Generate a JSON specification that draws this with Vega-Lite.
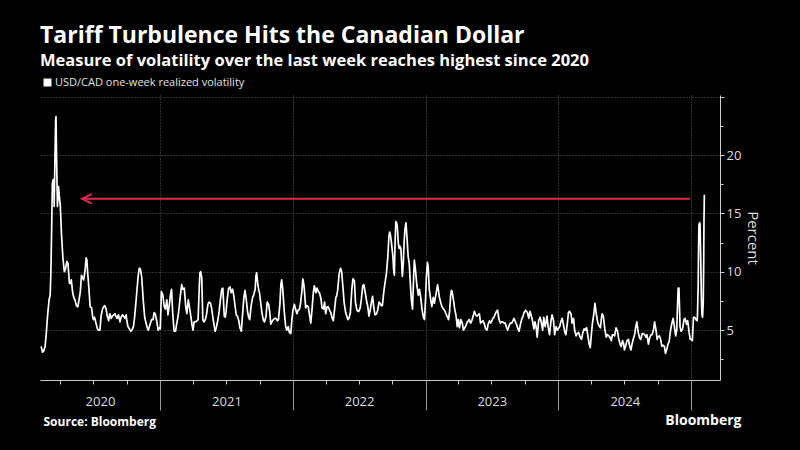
{
  "$schema": "https://vega.github.io/schema/vega-lite/v6.json",
  "width": 680,
  "height": 285,
  "autosize": {"type": "none"},
  "padding": {"left": 40, "top": 95, "right": 80, "bottom": 70},
  "background": "#000000",
  "title": {
    "text": "Tariff Turbulence Hits the Canadian Dollar",
    "subtitle": "Measure of volatility over the last week reaches highest since 2020",
    "anchor": "start",
    "frame": "group",
    "font": "Open Sans",
    "fontSize": 23,
    "fontWeight": "bold",
    "color": "#ffffff",
    "subtitleFont": "Open Sans",
    "subtitleFontSize": 16.5,
    "subtitleFontWeight": "bold",
    "subtitleColor": "#ffffff",
    "subtitlePadding": 5,
    "offset": 8
  },
  "layer": [
    {
      "data": {"values": [
        {"date":"2020-02-08","vol":3.6},{"date":"2020-02-12","vol":3.1},{"date":"2020-02-15","vol":3.2},{"date":"2020-02-19","vol":3.6},{"date":"2020-02-22","vol":4.6},{"date":"2020-02-26","vol":6.3},
        {"date":"2020-03-01","vol":7.6},{"date":"2020-03-04","vol":8.0},{"date":"2020-03-06","vol":10.0},{"date":"2020-03-08","vol":13.5},{"date":"2020-03-10","vol":17.5},{"date":"2020-03-12","vol":17.9},{"date":"2020-03-14","vol":17.9},{"date":"2020-03-15","vol":15.6},{"date":"2020-03-17","vol":19.5},{"date":"2020-03-19","vol":23.0},{"date":"2020-03-20","vol":23.3},{"date":"2020-03-22","vol":19.0},{"date":"2020-03-24","vol":15.6},{"date":"2020-03-27","vol":17.3},{"date":"2020-03-29","vol":16.5},
        {"date":"2020-04-01","vol":15.6},{"date":"2020-04-04","vol":13.3},{"date":"2020-04-08","vol":11.2},{"date":"2020-04-12","vol":10.0},{"date":"2020-04-15","vol":10.2},{"date":"2020-04-19","vol":10.9},{"date":"2020-04-22","vol":10.7},{"date":"2020-04-26","vol":9.0},{"date":"2020-04-29","vol":9.0},
        {"date":"2020-05-01","vol":9.3},{"date":"2020-05-05","vol":8.2},{"date":"2020-05-08","vol":7.8},{"date":"2020-05-12","vol":7.5},{"date":"2020-05-15","vol":7.1},{"date":"2020-05-19","vol":7.0},{"date":"2020-05-22","vol":7.5},{"date":"2020-05-26","vol":8.3},{"date":"2020-05-29","vol":9.7},
        {"date":"2020-06-01","vol":9.5},{"date":"2020-06-04","vol":9.3},{"date":"2020-06-08","vol":10.1},{"date":"2020-06-11","vol":11.2},{"date":"2020-06-13","vol":11.0},{"date":"2020-06-15","vol":10.0},{"date":"2020-06-18","vol":8.8},{"date":"2020-06-22","vol":7.0},{"date":"2020-06-26","vol":6.9},{"date":"2020-06-29","vol":6.1},
        {"date":"2020-07-01","vol":5.9},{"date":"2020-07-04","vol":6.1},{"date":"2020-07-08","vol":5.6},{"date":"2020-07-12","vol":5.1},{"date":"2020-07-15","vol":5.0},{"date":"2020-07-19","vol":5.0},{"date":"2020-07-22","vol":6.2},{"date":"2020-07-26","vol":6.8},{"date":"2020-07-29","vol":7.0},
        {"date":"2020-08-01","vol":7.1},{"date":"2020-08-05","vol":6.8},{"date":"2020-08-08","vol":6.2},{"date":"2020-08-12","vol":5.8},{"date":"2020-08-15","vol":6.4},{"date":"2020-08-19","vol":6.0},{"date":"2020-08-22","vol":6.2},{"date":"2020-08-26","vol":6.3},{"date":"2020-08-29","vol":6.4},
        {"date":"2020-09-01","vol":6.2},{"date":"2020-09-04","vol":6.0},{"date":"2020-09-08","vol":6.3},{"date":"2020-09-12","vol":5.7},{"date":"2020-09-15","vol":6.1},{"date":"2020-09-19","vol":6.3},{"date":"2020-09-22","vol":6.2},{"date":"2020-09-26","vol":6.0},{"date":"2020-09-29","vol":6.3},
        {"date":"2020-10-01","vol":5.8},{"date":"2020-10-04","vol":5.3},{"date":"2020-10-08","vol":5.1},{"date":"2020-10-12","vol":4.9},{"date":"2020-10-15","vol":5.0},{"date":"2020-10-19","vol":5.3},{"date":"2020-10-22","vol":6.0},{"date":"2020-10-26","vol":7.4},{"date":"2020-10-29","vol":8.5},
        {"date":"2020-11-01","vol":9.6},{"date":"2020-11-04","vol":10.3},{"date":"2020-11-06","vol":10.3},{"date":"2020-11-08","vol":10.1},{"date":"2020-11-11","vol":9.5},{"date":"2020-11-15","vol":7.6},{"date":"2020-11-19","vol":6.1},{"date":"2020-11-22","vol":5.7},{"date":"2020-11-26","vol":5.2},{"date":"2020-11-29","vol":5.0},
        {"date":"2020-12-01","vol":5.2},{"date":"2020-12-04","vol":5.5},{"date":"2020-12-08","vol":5.9},{"date":"2020-12-12","vol":5.9},{"date":"2020-12-15","vol":6.5},{"date":"2020-12-18","vol":6.4},{"date":"2020-12-22","vol":5.8},{"date":"2020-12-26","vol":5.0},{"date":"2020-12-29","vol":5.2},
        {"date":"2021-01-01","vol":5.1},{"date":"2021-01-04","vol":8.3},{"date":"2021-01-08","vol":8.0},{"date":"2021-01-12","vol":7.0},{"date":"2021-01-15","vol":6.8},{"date":"2021-01-19","vol":7.6},{"date":"2021-01-22","vol":6.3},{"date":"2021-01-26","vol":7.2},{"date":"2021-01-29","vol":8.0},
        {"date":"2021-02-01","vol":8.5},{"date":"2021-02-04","vol":6.5},{"date":"2021-02-08","vol":4.9},{"date":"2021-02-12","vol":4.9},{"date":"2021-02-15","vol":5.5},{"date":"2021-02-19","vol":6.2},{"date":"2021-02-22","vol":7.0},{"date":"2021-02-26","vol":8.2},
        {"date":"2021-03-01","vol":8.9},{"date":"2021-03-04","vol":8.5},{"date":"2021-03-08","vol":8.6},{"date":"2021-03-12","vol":7.0},{"date":"2021-03-15","vol":6.4},{"date":"2021-03-19","vol":7.6},{"date":"2021-03-22","vol":7.0},{"date":"2021-03-26","vol":6.2},{"date":"2021-03-29","vol":5.5},
        {"date":"2021-04-01","vol":5.0},{"date":"2021-04-04","vol":5.7},{"date":"2021-04-08","vol":5.7},{"date":"2021-04-12","vol":5.8},{"date":"2021-04-15","vol":5.9},{"date":"2021-04-18","vol":8.5},{"date":"2021-04-20","vol":9.9},{"date":"2021-04-22","vol":10.0},{"date":"2021-04-25","vol":9.5},{"date":"2021-04-28","vol":5.9},
        {"date":"2021-05-01","vol":5.7},{"date":"2021-05-05","vol":5.9},{"date":"2021-05-08","vol":6.3},{"date":"2021-05-12","vol":7.2},{"date":"2021-05-15","vol":7.4},{"date":"2021-05-19","vol":7.3},{"date":"2021-05-22","vol":6.9},{"date":"2021-05-26","vol":6.0},{"date":"2021-05-29","vol":5.4},
        {"date":"2021-06-01","vol":4.9},{"date":"2021-06-04","vol":5.2},{"date":"2021-06-08","vol":5.8},{"date":"2021-06-12","vol":6.6},{"date":"2021-06-15","vol":7.5},{"date":"2021-06-19","vol":8.5},{"date":"2021-06-22","vol":8.6},{"date":"2021-06-26","vol":6.2},{"date":"2021-06-29","vol":6.1},
        {"date":"2021-07-01","vol":6.6},{"date":"2021-07-04","vol":7.6},{"date":"2021-07-08","vol":8.6},{"date":"2021-07-12","vol":8.7},{"date":"2021-07-15","vol":8.2},{"date":"2021-07-19","vol":8.5},{"date":"2021-07-22","vol":8.0},{"date":"2021-07-26","vol":7.0},{"date":"2021-07-29","vol":6.3},
        {"date":"2021-08-01","vol":6.2},{"date":"2021-08-05","vol":5.8},{"date":"2021-08-08","vol":5.2},{"date":"2021-08-12","vol":4.9},{"date":"2021-08-15","vol":6.2},{"date":"2021-08-19","vol":7.8},{"date":"2021-08-22","vol":8.4},{"date":"2021-08-26","vol":7.5},{"date":"2021-08-29","vol":6.6},
        {"date":"2021-09-01","vol":6.1},{"date":"2021-09-04","vol":5.9},{"date":"2021-09-08","vol":7.1},{"date":"2021-09-12","vol":7.8},{"date":"2021-09-15","vol":8.0},{"date":"2021-09-19","vol":8.5},{"date":"2021-09-21","vol":9.6},{"date":"2021-09-23","vol":9.9},{"date":"2021-09-26","vol":9.0},{"date":"2021-09-29","vol":8.4},
        {"date":"2021-10-01","vol":8.2},{"date":"2021-10-04","vol":7.4},{"date":"2021-10-08","vol":6.4},{"date":"2021-10-12","vol":5.8},{"date":"2021-10-15","vol":5.7},{"date":"2021-10-19","vol":6.2},{"date":"2021-10-22","vol":7.4},{"date":"2021-10-26","vol":7.2},{"date":"2021-10-29","vol":6.6},
        {"date":"2021-11-01","vol":5.5},{"date":"2021-11-04","vol":5.7},{"date":"2021-11-08","vol":5.9},{"date":"2021-11-12","vol":6.0},{"date":"2021-11-15","vol":6.0},{"date":"2021-11-19","vol":5.8},{"date":"2021-11-22","vol":5.9},{"date":"2021-11-26","vol":7.2},{"date":"2021-11-29","vol":9.0},
        {"date":"2021-12-01","vol":9.3},{"date":"2021-12-04","vol":8.5},{"date":"2021-12-08","vol":6.6},{"date":"2021-12-12","vol":5.3},{"date":"2021-12-15","vol":5.0},{"date":"2021-12-19","vol":5.3},{"date":"2021-12-22","vol":4.8},{"date":"2021-12-26","vol":4.7},{"date":"2021-12-29","vol":5.9},
        {"date":"2022-01-01","vol":6.7},{"date":"2022-01-05","vol":7.2},{"date":"2022-01-08","vol":6.8},{"date":"2022-01-12","vol":6.4},{"date":"2022-01-15","vol":6.7},{"date":"2022-01-19","vol":6.8},{"date":"2022-01-22","vol":7.3},{"date":"2022-01-26","vol":8.5},{"date":"2022-01-28","vol":9.4},{"date":"2022-01-31","vol":8.9},
        {"date":"2022-02-02","vol":8.2},{"date":"2022-02-05","vol":6.9},{"date":"2022-02-08","vol":7.1},{"date":"2022-02-12","vol":7.0},{"date":"2022-02-15","vol":6.4},{"date":"2022-02-19","vol":5.6},{"date":"2022-02-22","vol":6.6},{"date":"2022-02-26","vol":8.2},
        {"date":"2022-03-01","vol":8.8},{"date":"2022-03-05","vol":8.2},{"date":"2022-03-08","vol":8.6},{"date":"2022-03-12","vol":8.3},{"date":"2022-03-15","vol":8.2},{"date":"2022-03-19","vol":7.7},{"date":"2022-03-22","vol":6.9},{"date":"2022-03-26","vol":6.8},{"date":"2022-03-29","vol":7.4},
        {"date":"2022-04-01","vol":6.4},{"date":"2022-04-05","vol":7.0},{"date":"2022-04-08","vol":7.0},{"date":"2022-04-12","vol":6.7},{"date":"2022-04-15","vol":6.5},{"date":"2022-04-19","vol":6.0},{"date":"2022-04-22","vol":5.8},{"date":"2022-04-26","vol":6.9},{"date":"2022-04-29","vol":7.8},
        {"date":"2022-05-01","vol":7.9},{"date":"2022-05-04","vol":8.4},{"date":"2022-05-08","vol":9.8},{"date":"2022-05-12","vol":10.3},{"date":"2022-05-15","vol":10.0},{"date":"2022-05-19","vol":8.5},{"date":"2022-05-22","vol":7.3},{"date":"2022-05-26","vol":6.5},{"date":"2022-05-29","vol":6.2},
        {"date":"2022-06-01","vol":5.9},{"date":"2022-06-04","vol":6.0},{"date":"2022-06-08","vol":6.5},{"date":"2022-06-12","vol":8.5},{"date":"2022-06-15","vol":9.4},{"date":"2022-06-19","vol":9.2},{"date":"2022-06-22","vol":7.4},{"date":"2022-06-26","vol":6.7},{"date":"2022-06-29","vol":6.6},
        {"date":"2022-07-01","vol":6.6},{"date":"2022-07-05","vol":6.9},{"date":"2022-07-08","vol":7.6},{"date":"2022-07-12","vol":8.8},{"date":"2022-07-15","vol":8.9},{"date":"2022-07-19","vol":8.2},{"date":"2022-07-22","vol":7.6},{"date":"2022-07-26","vol":7.0},{"date":"2022-07-29","vol":6.2},
        {"date":"2022-08-01","vol":6.6},{"date":"2022-08-05","vol":7.4},{"date":"2022-08-08","vol":7.9},{"date":"2022-08-12","vol":6.8},{"date":"2022-08-15","vol":6.3},{"date":"2022-08-19","vol":6.4},{"date":"2022-08-22","vol":6.7},{"date":"2022-08-26","vol":7.4},{"date":"2022-08-29","vol":7.3},
        {"date":"2022-09-01","vol":7.1},{"date":"2022-09-04","vol":7.1},{"date":"2022-09-08","vol":8.3},{"date":"2022-09-12","vol":9.2},{"date":"2022-09-15","vol":9.8},{"date":"2022-09-19","vol":11.3},{"date":"2022-09-22","vol":13.0},{"date":"2022-09-24","vol":13.4},{"date":"2022-09-26","vol":13.2},{"date":"2022-09-29","vol":12.5},
        {"date":"2022-10-01","vol":11.9},{"date":"2022-10-03","vol":11.3},{"date":"2022-10-05","vol":10.2},{"date":"2022-10-07","vol":9.7},{"date":"2022-10-09","vol":12.5},{"date":"2022-10-11","vol":14.3},{"date":"2022-10-13","vol":14.2},{"date":"2022-10-15","vol":13.9},{"date":"2022-10-18","vol":12.4},{"date":"2022-10-20","vol":12.0},{"date":"2022-10-22","vol":12.2},{"date":"2022-10-25","vol":12.0},{"date":"2022-10-27","vol":10.8},{"date":"2022-10-29","vol":9.6},
        {"date":"2022-11-01","vol":11.0},{"date":"2022-11-03","vol":12.6},{"date":"2022-11-05","vol":13.6},{"date":"2022-11-08","vol":14.2},{"date":"2022-11-11","vol":12.8},{"date":"2022-11-14","vol":11.3},{"date":"2022-11-17","vol":10.7},{"date":"2022-11-20","vol":9.0},{"date":"2022-11-23","vol":7.5},{"date":"2022-11-26","vol":6.8},{"date":"2022-11-29","vol":9.5},
        {"date":"2022-12-01","vol":11.0},{"date":"2022-12-04","vol":10.2},{"date":"2022-12-08","vol":8.8},{"date":"2022-12-12","vol":8.0},{"date":"2022-12-15","vol":8.5},{"date":"2022-12-19","vol":7.7},{"date":"2022-12-22","vol":6.8},{"date":"2022-12-26","vol":6.1},{"date":"2022-12-29","vol":5.9},
        {"date":"2023-01-01","vol":7.8},{"date":"2023-01-03","vol":9.5},{"date":"2023-01-06","vol":10.8},{"date":"2023-01-08","vol":10.5},{"date":"2023-01-11","vol":8.5},{"date":"2023-01-15","vol":7.6},{"date":"2023-01-18","vol":7.0},{"date":"2023-01-22","vol":7.8},{"date":"2023-01-25","vol":7.3},{"date":"2023-01-29","vol":8.0},
        {"date":"2023-02-01","vol":8.5},{"date":"2023-02-03","vol":8.9},{"date":"2023-02-08","vol":7.8},{"date":"2023-02-12","vol":7.3},{"date":"2023-02-15","vol":7.0},{"date":"2023-02-19","vol":6.8},{"date":"2023-02-22","vol":6.7},{"date":"2023-02-26","vol":6.4},
        {"date":"2023-03-01","vol":6.2},{"date":"2023-03-05","vol":5.9},{"date":"2023-03-08","vol":6.6},{"date":"2023-03-11","vol":8.0},{"date":"2023-03-13","vol":8.4},{"date":"2023-03-15","vol":8.3},{"date":"2023-03-19","vol":7.5},{"date":"2023-03-22","vol":6.8},{"date":"2023-03-26","vol":6.2},{"date":"2023-03-29","vol":5.3},
        {"date":"2023-04-01","vol":5.9},{"date":"2023-04-04","vol":5.2},{"date":"2023-04-08","vol":5.9},{"date":"2023-04-12","vol":5.6},{"date":"2023-04-15","vol":5.0},{"date":"2023-04-19","vol":5.2},{"date":"2023-04-22","vol":5.4},{"date":"2023-04-26","vol":5.7},{"date":"2023-04-29","vol":5.8},
        {"date":"2023-05-01","vol":5.9},{"date":"2023-05-05","vol":5.6},{"date":"2023-05-08","vol":5.8},{"date":"2023-05-12","vol":6.2},{"date":"2023-05-15","vol":6.6},{"date":"2023-05-19","vol":6.3},{"date":"2023-05-22","vol":6.2},{"date":"2023-05-26","vol":6.3},{"date":"2023-05-29","vol":6.4},
        {"date":"2023-06-01","vol":5.6},{"date":"2023-06-04","vol":5.7},{"date":"2023-06-08","vol":5.8},{"date":"2023-06-12","vol":5.5},{"date":"2023-06-15","vol":5.1},{"date":"2023-06-19","vol":5.0},{"date":"2023-06-22","vol":5.5},{"date":"2023-06-26","vol":5.8},{"date":"2023-06-29","vol":5.6},
        {"date":"2023-07-01","vol":5.7},{"date":"2023-07-05","vol":6.0},{"date":"2023-07-08","vol":6.1},{"date":"2023-07-12","vol":6.4},{"date":"2023-07-15","vol":6.6},{"date":"2023-07-18","vol":6.7},{"date":"2023-07-22","vol":5.9},{"date":"2023-07-26","vol":5.6},{"date":"2023-07-29","vol":5.7},
        {"date":"2023-08-01","vol":5.7},{"date":"2023-08-05","vol":5.6},{"date":"2023-08-08","vol":5.6},{"date":"2023-08-12","vol":5.2},{"date":"2023-08-15","vol":5.0},{"date":"2023-08-19","vol":5.4},{"date":"2023-08-22","vol":5.6},{"date":"2023-08-26","vol":5.6},{"date":"2023-08-29","vol":5.8},
        {"date":"2023-09-01","vol":6.0},{"date":"2023-09-05","vol":5.7},{"date":"2023-09-08","vol":5.5},{"date":"2023-09-12","vol":5.1},{"date":"2023-09-15","vol":4.9},{"date":"2023-09-19","vol":5.5},{"date":"2023-09-22","vol":5.9},{"date":"2023-09-26","vol":6.2},{"date":"2023-09-29","vol":6.5},
        {"date":"2023-10-01","vol":6.6},{"date":"2023-10-03","vol":6.7},{"date":"2023-10-08","vol":6.5},{"date":"2023-10-12","vol":6.0},{"date":"2023-10-15","vol":6.6},{"date":"2023-10-19","vol":6.2},{"date":"2023-10-22","vol":5.8},{"date":"2023-10-26","vol":5.1},{"date":"2023-10-29","vol":5.7},
        {"date":"2023-11-01","vol":5.3},{"date":"2023-11-04","vol":4.4},{"date":"2023-11-08","vol":5.8},{"date":"2023-11-12","vol":6.1},{"date":"2023-11-15","vol":5.7},{"date":"2023-11-19","vol":5.0},{"date":"2023-11-22","vol":6.1},{"date":"2023-11-26","vol":5.3},{"date":"2023-11-29","vol":5.8},
        {"date":"2023-12-01","vol":6.2},{"date":"2023-12-04","vol":5.3},{"date":"2023-12-08","vol":4.6},{"date":"2023-12-12","vol":5.8},{"date":"2023-12-15","vol":6.3},{"date":"2023-12-19","vol":5.8},{"date":"2023-12-22","vol":4.6},{"date":"2023-12-26","vol":5.3},{"date":"2023-12-29","vol":5.0},
        {"date":"2024-01-01","vol":5.1},{"date":"2024-01-05","vol":5.3},{"date":"2024-01-08","vol":5.7},{"date":"2024-01-12","vol":6.0},{"date":"2024-01-15","vol":5.5},{"date":"2024-01-19","vol":4.8},{"date":"2024-01-22","vol":4.6},{"date":"2024-01-26","vol":5.6},{"date":"2024-01-29","vol":6.5},
        {"date":"2024-02-01","vol":6.6},{"date":"2024-02-05","vol":6.4},{"date":"2024-02-08","vol":5.6},{"date":"2024-02-12","vol":6.0},{"date":"2024-02-15","vol":5.0},{"date":"2024-02-19","vol":4.5},{"date":"2024-02-22","vol":4.7},{"date":"2024-02-26","vol":4.8},
        {"date":"2024-03-01","vol":4.4},{"date":"2024-03-05","vol":4.2},{"date":"2024-03-08","vol":4.7},{"date":"2024-03-12","vol":5.1},{"date":"2024-03-15","vol":5.0},{"date":"2024-03-19","vol":5.2},{"date":"2024-03-22","vol":4.6},{"date":"2024-03-26","vol":3.8},{"date":"2024-03-29","vol":3.5},
        {"date":"2024-04-01","vol":4.6},{"date":"2024-04-04","vol":5.6},{"date":"2024-04-08","vol":6.4},{"date":"2024-04-11","vol":7.3},{"date":"2024-04-15","vol":6.3},{"date":"2024-04-19","vol":5.6},{"date":"2024-04-22","vol":5.4},{"date":"2024-04-26","vol":5.2},{"date":"2024-04-29","vol":6.1},
        {"date":"2024-05-01","vol":6.4},{"date":"2024-05-04","vol":6.2},{"date":"2024-05-08","vol":5.1},{"date":"2024-05-12","vol":4.4},{"date":"2024-05-15","vol":4.6},{"date":"2024-05-19","vol":4.5},{"date":"2024-05-22","vol":4.4},{"date":"2024-05-26","vol":4.1},{"date":"2024-05-29","vol":4.6},
        {"date":"2024-06-01","vol":4.6},{"date":"2024-06-04","vol":4.5},{"date":"2024-06-08","vol":5.2},{"date":"2024-06-12","vol":4.9},{"date":"2024-06-15","vol":4.3},{"date":"2024-06-19","vol":3.8},{"date":"2024-06-22","vol":3.6},{"date":"2024-06-26","vol":4.1},{"date":"2024-06-29","vol":3.8},
        {"date":"2024-07-01","vol":3.3},{"date":"2024-07-05","vol":3.7},{"date":"2024-07-08","vol":4.1},{"date":"2024-07-12","vol":4.2},{"date":"2024-07-15","vol":3.7},{"date":"2024-07-19","vol":3.3},{"date":"2024-07-22","vol":3.8},{"date":"2024-07-26","vol":4.3},{"date":"2024-07-29","vol":4.6},
        {"date":"2024-08-01","vol":5.2},{"date":"2024-08-04","vol":5.7},{"date":"2024-08-08","vol":4.8},{"date":"2024-08-12","vol":4.3},{"date":"2024-08-15","vol":4.2},{"date":"2024-08-19","vol":4.7},{"date":"2024-08-22","vol":4.7},{"date":"2024-08-26","vol":4.6},{"date":"2024-08-29","vol":4.4},
        {"date":"2024-09-01","vol":4.6},{"date":"2024-09-05","vol":3.8},{"date":"2024-09-08","vol":4.3},{"date":"2024-09-12","vol":4.6},{"date":"2024-09-15","vol":4.6},{"date":"2024-09-19","vol":5.0},{"date":"2024-09-22","vol":5.7},{"date":"2024-09-26","vol":5.0},{"date":"2024-09-29","vol":4.2},
        {"date":"2024-10-01","vol":4.4},{"date":"2024-10-05","vol":4.5},{"date":"2024-10-08","vol":4.3},{"date":"2024-10-12","vol":3.6},{"date":"2024-10-15","vol":3.7},{"date":"2024-10-19","vol":3.6},{"date":"2024-10-22","vol":3.0},{"date":"2024-10-26","vol":3.4},{"date":"2024-10-29","vol":3.8},
        {"date":"2024-11-01","vol":4.0},{"date":"2024-11-05","vol":5.0},{"date":"2024-11-08","vol":5.5},{"date":"2024-11-12","vol":6.0},{"date":"2024-11-15","vol":5.4},{"date":"2024-11-19","vol":4.5},{"date":"2024-11-22","vol":5.0},{"date":"2024-11-24","vol":7.0},{"date":"2024-11-26","vol":8.6},{"date":"2024-11-28","vol":8.6},{"date":"2024-11-30","vol":6.5},
        {"date":"2024-12-01","vol":5.3},{"date":"2024-12-04","vol":4.9},{"date":"2024-12-08","vol":5.1},{"date":"2024-12-12","vol":5.9},{"date":"2024-12-15","vol":6.0},{"date":"2024-12-19","vol":5.5},{"date":"2024-12-22","vol":5.8},{"date":"2024-12-26","vol":4.8},{"date":"2024-12-29","vol":4.2},
        {"date":"2025-01-01","vol":4.2},{"date":"2025-01-04","vol":4.1},{"date":"2025-01-07","vol":6.1},{"date":"2025-01-10","vol":6.1},{"date":"2025-01-14","vol":5.9},{"date":"2025-01-17","vol":5.8},{"date":"2025-01-18","vol":6.2},{"date":"2025-01-20","vol":9.0},{"date":"2025-01-21","vol":12.0},{"date":"2025-01-22","vol":14.0},{"date":"2025-01-24","vol":14.2},{"date":"2025-01-25","vol":14.1},{"date":"2025-01-27","vol":11.0},{"date":"2025-01-29","vol":7.5},{"date":"2025-01-30","vol":6.5},{"date":"2025-01-31","vol":6.2},
        {"date":"2025-02-01","vol":6.1},{"date":"2025-02-03","vol":7.5},{"date":"2025-02-04","vol":10.5},{"date":"2025-02-05","vol":14.5},{"date":"2025-02-06","vol":16.6}
      ]},
      "mark": {"type": "line", "strokeWidth": 1.7, "strokeJoin": "round"},
      "encoding": {
        "x": {
          "field": "date",
          "type": "temporal",
          "scale": {"domain": [{"year": 2020, "month": 2, "date": 5, "utc": true}, {"year": 2025, "month": 3, "date": 21, "utc": true}]},
          "axis": {
            "values": [
              {"year": 2021, "month": 1, "date": 1, "utc": true},
              {"year": 2022, "month": 1, "date": 1, "utc": true},
              {"year": 2023, "month": 1, "date": 1, "utc": true},
              {"year": 2024, "month": 1, "date": 1, "utc": true},
              {"year": 2025, "month": 1, "date": 1, "utc": true}
            ],
            "orient": "bottom",
            "tickSize": 30,
            "tickColor": "#9a9a9a",
            "labels": false,
            "domain": false,
            "grid": true,
            "gridColor": "#5e5e5e",
            "gridDash": [1, 2],
            "title": "Bloomberg",
            "titleX": 701,
            "titleY": 44,
            "titleAlign": "right",
            "titleBaseline": "alphabetic",
            "titleFont": "Open Sans",
            "titleFontSize": 14,
            "titleFontWeight": "bold",
            "titleColor": "#ffffff"
          }
        },
        "y": {
          "field": "vol",
          "type": "quantitative",
          "scale": {"domain": [0.72, 25.15], "nice": false, "zero": false},
          "axis": {
            "orient": "right",
            "values": [5, 10, 15, 20, 25],
            "labelExpr": "datum.value == 25 ? '' : datum.label",
            "tickSize": 4,
            "tickColor": "#cccccc",
            "labelPadding": 2,
            "labelFont": "Open Sans",
            "labelFontSize": 13,
            "labelColor": "#dddddd",
            "domain": true,
            "domainColor": "#cccccc",
            "grid": true,
            "gridColor": "#5e5e5e",
            "gridDash": [1, 2],
            "title": "Percent",
            "titleFont": "Open Sans",
            "titleFontSize": 15,
            "titleFontWeight": "normal",
            "titleColor": "#dddddd",
            "titlePadding": 4
          }
        },
        "color": {
          "datum": "USD/CAD one-week realized volatility",
          "scale": {"range": ["#ffffff"]},
          "legend": {
            "orient": "none",
            "legendX": 2,
            "legendY": -18,
            "title": null,
            "padding": 0,
            "symbolType": "square",
            "symbolSize": 64,
            "symbolFillColor": "#ffffff",
            "symbolStrokeWidth": 0,
            "labelFont": "Open Sans",
            "labelFontSize": 11,
            "labelColor": "#e0e0e0",
            "labelOffset": 2,
            "labelLimit": 0
          }
        }
      }
    },
    {
      "data": {"values": [{"start": "2020-05-31", "end": "2024-12-28", "level": 16.25}]},
      "mark": {"type": "rule", "color": "#e3284f", "strokeWidth": 2},
      "encoding": {
        "x": {
          "field": "start",
          "type": "temporal",
          "axis": {
            "orient": "bottom",
            "values": [
              {"year": 2020, "month": 7, "date": 19, "utc": true},
              {"year": 2021, "month": 7, "date": 2, "utc": true},
              {"year": 2022, "month": 7, "date": 2, "utc": true},
              {"year": 2023, "month": 7, "date": 2, "utc": true},
              {"year": 2024, "month": 7, "date": 2, "utc": true}
            ],
            "format": "%Y",
            "ticks": false,
            "domain": false,
            "grid": false,
            "labelPadding": 15,
            "labelFont": "Open Sans",
            "labelFontSize": 13,
            "labelColor": "#dddddd",
            "labelFlush": false,
            "labelOverlap": false,
            "title": "Source: Bloomberg",
            "titleX": 3,
            "titleY": 45,
            "titleAlign": "left",
            "titleBaseline": "alphabetic",
            "titleFont": "Open Sans",
            "titleFontSize": 12,
            "titleFontWeight": "bold",
            "titleColor": "#ffffff"
          }
        },
        "x2": {"field": "end"},
        "y": {
          "field": "level",
          "type": "quantitative",
          "axis": {
            "orient": "right",
            "values": [2.5, 7.5, 12.5, 17.5, 22.5],
            "tickSize": 3,
            "tickColor": "#cccccc",
            "labels": false,
            "domain": false,
            "grid": false,
            "title": null
          }
        }
      }
    },
    {
      "data": {"values": [{"start": "2020-05-31", "end": "2024-12-28", "level": 16.25}]},
      "mark": {"type": "point", "shape": "M1,-0.5L0,0L1,0.5", "size": 361, "filled": false, "color": "#e3284f", "strokeWidth": 2, "opacity": 1},
      "encoding": {
        "x": {
          "field": "start",
          "type": "temporal",
          "axis": {
            "orient": "bottom",
            "values": [
              {"year": 2020, "month": 4, "date": 1, "utc": true},
              {"year": 2020, "month": 7, "date": 1, "utc": true},
              {"year": 2020, "month": 10, "date": 1, "utc": true},
              {"year": 2021, "month": 4, "date": 1, "utc": true},
              {"year": 2021, "month": 7, "date": 1, "utc": true},
              {"year": 2021, "month": 10, "date": 1, "utc": true},
              {"year": 2022, "month": 4, "date": 1, "utc": true},
              {"year": 2022, "month": 7, "date": 1, "utc": true},
              {"year": 2022, "month": 10, "date": 1, "utc": true},
              {"year": 2023, "month": 4, "date": 1, "utc": true},
              {"year": 2023, "month": 7, "date": 1, "utc": true},
              {"year": 2023, "month": 10, "date": 1, "utc": true},
              {"year": 2024, "month": 4, "date": 1, "utc": true},
              {"year": 2024, "month": 7, "date": 1, "utc": true},
              {"year": 2024, "month": 10, "date": 1, "utc": true}
            ],
            "tickSize": 4,
            "tickColor": "#cccccc",
            "labels": false,
            "domain": true,
            "domainColor": "#cccccc",
            "grid": false,
            "title": null
          }
        },
        "y": {"field": "level", "type": "quantitative", "axis": null}
      }
    }
  ],
  "resolve": {"axis": {"x": "independent", "y": "independent"}},
  "config": {
    "view": {"stroke": null},
    "font": "Open Sans"
  }
}
